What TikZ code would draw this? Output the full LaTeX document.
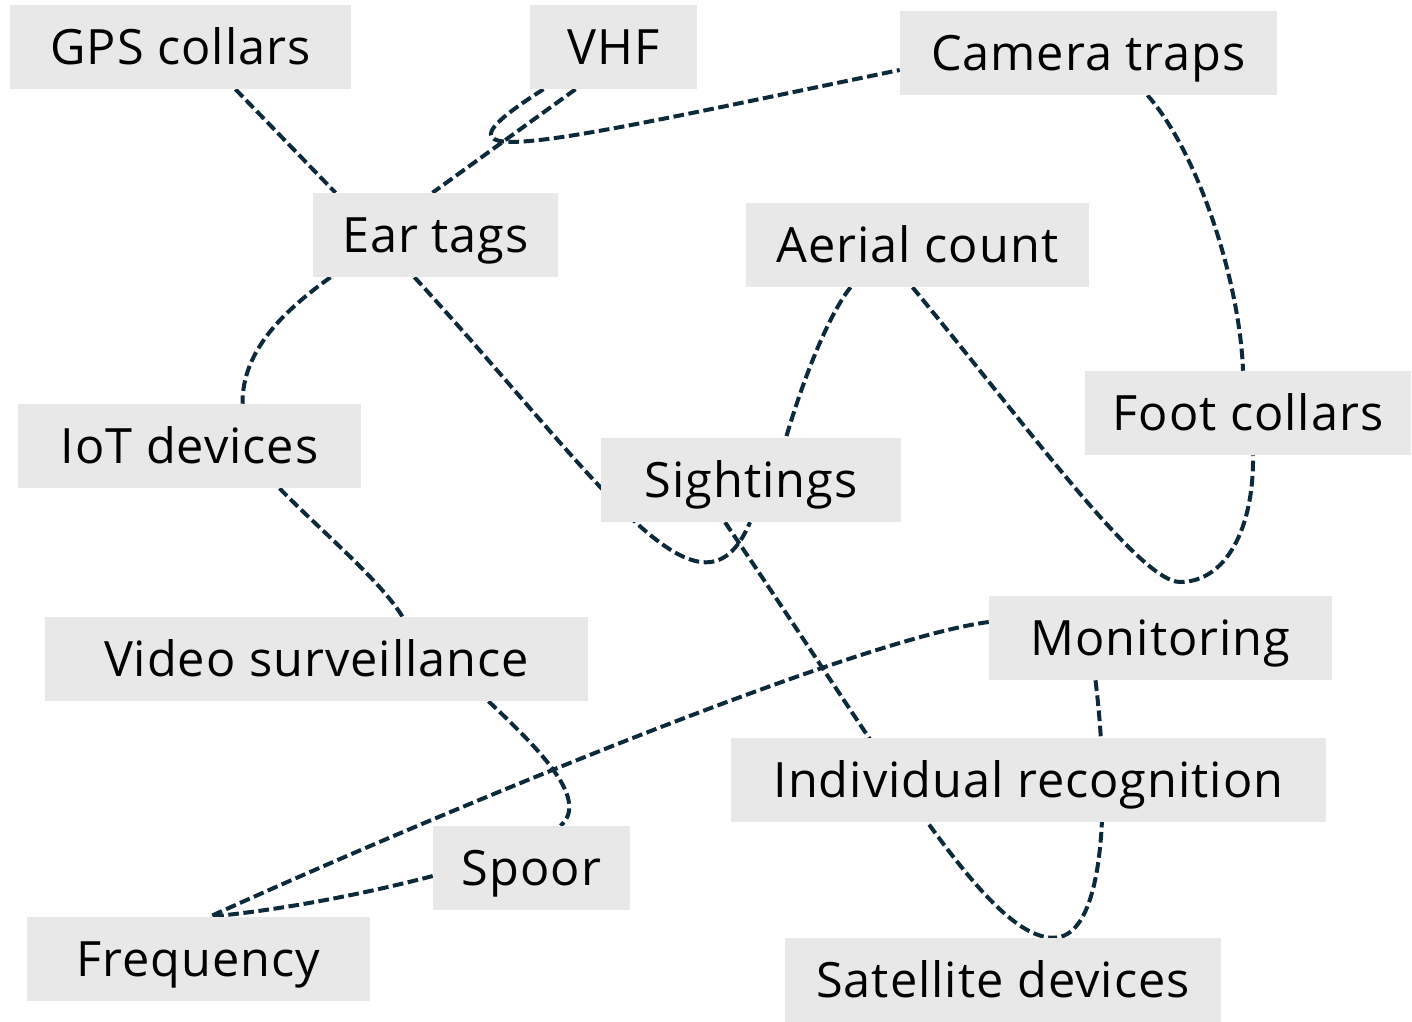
\documentclass[tikz,border=0pt]{standalone}
\usepackage{fontspec}
\setmainfont{Open Sans}[LetterSpace=2]
\usetikzlibrary{calc,backgrounds}
\definecolor{boxgray}{HTML}{E8E8E8}
\definecolor{linknavy}{HTML}{0D2A3A}
\begin{document}
\begin{tikzpicture}[x=0.75pt,y=-0.75pt,
  box/.style={fill=boxgray, inner sep=0pt, minimum height=63pt,
    text height=26pt, text depth=0pt,
    font=\fontsize{36.5pt}{42pt}\selectfont},
  link/.style={draw=linknavy, line width=3pt, dash pattern=on 8pt off 3.4pt}]
\useasboundingbox (0,0) rectangle (1412,1021);

% labelled boxes
\node[box, minimum width=255.75pt] (gps)    at (180.5,47)  {GPS collars};
\node[box, minimum width=125.25pt] (vhf)    at (613.5,47)  {VHF};
\node[box, minimum width=282.75pt] (cam)    at (1088.5,53) {Camera traps};
\node[box, minimum width=183.75pt] (ear)    at (435.5,235) {Ear tags};
\node[box, minimum width=257.25pt] (aerial) at (917.5,245) {Aerial count};
\node[box, minimum width=244.5pt]  (foot)   at (1248,413)  {Foot collars};
\node[box, minimum width=257.25pt] (iot)    at (189.5,446) {IoT devices};
\node[box, minimum width=225pt]    (sight)  at (751,480)   {Sightings};
\node[box, minimum width=407.25pt] (video)  at (316.5,659) {Video surveillance};
\node[box, minimum width=257.25pt] (mon)    at (1160.5,638) {Monitoring};
\node[box, minimum width=446.25pt] (indrec) at (1028.5,780) {Individual recognition};
\node[box, minimum width=147.75pt] (spoor)  at (531.5,868) {Spoor};
\node[box, minimum width=257.25pt] (freq)   at (198.5,959) {Frequency};
\node[box, minimum width=327pt]    (sat)    at (1003,980)  {Satellite devices};

\coordinate (turn) at (1180,582);

% dashed links, kept behind the boxes
\begin{scope}[on background layer]
\draw[link] ($(gps.south)+(55,0)$) -- ($(ear.north)+(-100,0)$);
\draw[link] ($(vhf.south)+(-38,0)$) -- ($(ear.north)+(-3,0)$);
\draw[link] ($(vhf.south)+(-70,0)$) .. controls (400,180) and (560,140) .. ($(cam.west)+(0,17)$);
\draw[link] ($(cam.south)+(59,0)$) .. controls (1200,155) and (1240,285) .. ($(foot.north)+(-5,0)$);
\draw[link] ($(ear.south)+(-105,0)$) .. controls (285,310) and (242,350) .. ($(iot.north)+(53,0)$);
\draw[link] ($(ear.south)+(-21,0)$) .. controls (600,480) and (700,640) .. ($(sight.south)+(-1,0)$);
\draw[link] ($(aerial.south)+(-67,0)$) .. controls (825,320) and (800,390) .. ($(sight.north)+(35,0)$);
\draw[link] ($(aerial.south)+(-5,0)$) .. controls (1030,430) and (1140,582) .. (turn)
            .. controls (1225,582) and (1254,530) .. ($(foot.south)+(5,0)$);
\draw[link] ($(iot.south)+(90,0)$) .. controls (320,530) and (380,580) .. ($(video.north)+(86,0)$);
\draw[link] ($(video.south)+(172,0)$) .. controls (540,750) and (590,800) .. ($(spoor.north)+(29,0)$);
\draw[link] ($(mon.west)+(0,-16)$) .. controls (850,640) and (400,830) .. ($(freq.north)+(11,0)$);
\draw[link] ($(spoor.west)+(0,8)$) .. controls (360,895) and (280,910) .. ($(freq.north)+(11,0)$);
\draw[link] ($(sight.south)+(-26,0)$) .. controls (900,780) and (990,940) .. ($(sat.north)+(52,0)$);
\draw[link] ($(mon.south)+(-65,0)$) .. controls (1110,800) and (1105,935) .. ($(sat.north)+(52,0)$);
\end{scope}
\end{tikzpicture}
\end{document}
